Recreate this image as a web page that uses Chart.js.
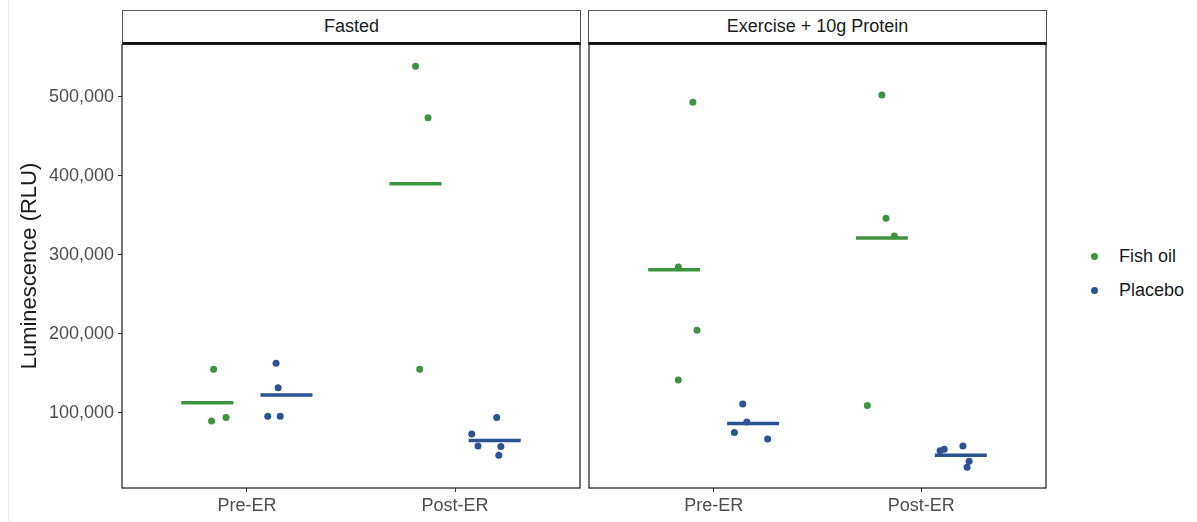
<!DOCTYPE html>
<html>
<head>
<meta charset="utf-8">
<script src="https://cdn.jsdelivr.net/npm/chart.js@4.4.0/dist/chart.umd.min.js"></script>
<style>
  body { margin: 0; background: #fff; font-family: 'Liberation Sans', Arial, sans-serif; }
  #wrap { position: relative; width: 1197px; height: 522px; overflow: hidden; background: #fff; }
  .edge { position: absolute; left: 8px; top: 0; width: 1px; height: 522px; background: #ececec; }
  .panel { position: absolute; top: 44px; height: 478px; }
  .strip {
    position: absolute; top: 10px; height: 35px; box-sizing: border-box;
    border: 1.5px solid #555; border-bottom: 3px solid #111; background: #fff;
    text-align: center; line-height: 31px; font-size: 18px; color: #1a1a1a;
  }
  .legend { position: absolute; left: 1091px; font-size: 18px; color: #1a1a1a; line-height: 22px; }
  .legend span.dot { display: inline-block; width: 7px; height: 7px; border-radius: 50%; margin-right: 21px; vertical-align: middle; position: relative; top: -1px; }
</style>
</head>
<body>
<div id="wrap">
  <div class="edge"></div>
  <div class="strip" id="strip0" style="left:122px;width:459px;"></div>
  <div class="strip" id="strip1" style="left:588px;width:459px;"></div>
  <div class="panel" style="left:0;width:581px;"><canvas id="fastedChart"></canvas></div>
  <div class="panel" style="left:588px;width:459px;"><canvas id="exerciseChart"></canvas></div>
  <div class="legend" style="top:245px;"><span class="dot" style="background:#3f923f"></span>Fish oil</div>
  <div class="legend" style="top:279px;"><span class="dot" style="background:#2b5291"></span>Placebo</div>
</div>
<script>
// --- DATA ---
const categories = ['Pre-ER', 'Post-ER'];
const panelTitles = ['Fasted', 'Exercise + 10g Protein'];
const groups = ['Fish oil', 'Placebo'];
const yTicks = [100000, 200000, 300000, 400000, 500000];

// x = category position (1 = Pre-ER, 2 = Post-ER) incl. dodge + jitter
const fastedFishX = [0.84, 0.83, 0.90, 1.81, 1.87, 1.83];
const fastedFishY = [155300, 89900, 94100, 538900, 473800, 155300];
const fastedPlaceboX = [1.14, 1.15, 1.10, 1.16, 2.20, 2.08, 2.11, 2.22, 2.21];
const fastedPlaceboY = [162900, 132000, 95800, 95800, 94100, 73400, 58200, 57400, 46400];
const fastedFishMean = [113000, 390000];
const fastedPlaceboMean = [122800, 65000];

const exerciseFishX = [0.90, 0.92, 0.83, 0.83, 1.81, 1.83, 1.87, 1.74];
const exerciseFishY = [493300, 204700, 141800, 284800, 502500, 346500, 324000, 109300];
const exercisePlaceboX = [1.14, 1.16, 1.10, 1.26, 2.20, 2.09, 2.11, 2.23, 2.22];
const exercisePlaceboY = [111400, 88600, 75100, 67100, 58200, 52300, 54000, 38900, 31300];
const exerciseFishMean = [281400, 321500];
const exercisePlaceboMean = [86500, 46400];

// --- STYLE ---
const colors = { fish: '#3f923f', placebo: '#2b5291' };
const dodge = 0.19;      // half the dodge distance between groups
const halfBar = 0.125;   // half width of the mean bar
const tickColor = '#4d4d4d';
const fontFamily = "'Liberation Sans', Arial, sans-serif";

document.getElementById('strip0').textContent = panelTitles[0];
document.getElementById('strip1').textContent = panelTitles[1];

function toPoints(xs, ys) {
    return xs.map((x, i) => ({ x: x, y: ys[i] }));
}

// each mean is a short horizontal segment; a null point breaks the line between them
function meanSegments(means, offset) {
    const pts = [];
    means.forEach((m, i) => {
        const c = i + 1 + offset;
        pts.push({ x: c - halfBar, y: m }, { x: c + halfBar, y: m }, { x: c + halfBar, y: null });
    });
    return pts;
}

// box around the panel, like ggplot's panel.border
const panelBorder = {
    id: 'panelBorder',
    afterDraw(chart) {
        const { ctx, chartArea: a } = chart;
        ctx.save();
        ctx.strokeStyle = '#2a2a2a';
        ctx.lineWidth = 1.3;
        ctx.strokeRect(a.left, a.top, a.right - a.left, a.bottom - a.top);
        ctx.restore();
    }
};

function noEdgePadding(s) {
    s.paddingTop = 0; s.paddingBottom = 0; s.paddingLeft = 0; s.paddingRight = 0;
}

function buildChart(canvasId, fishX, fishY, placeboX, placeboY, fishMean, placeboMean, showY) {
    return new Chart(document.getElementById(canvasId), {
        type: 'scatter',
        data: {
            datasets: [
                {
                    type: 'line', label: groups[0] + ' mean', data: meanSegments(fishMean, -dodge),
                    borderColor: colors.fish, borderWidth: 3.5, pointRadius: 0, spanGaps: false, order: 0
                },
                {
                    type: 'line', label: groups[1] + ' mean', data: meanSegments(placeboMean, dodge),
                    borderColor: colors.placebo, borderWidth: 3.5, pointRadius: 0, spanGaps: false, order: 0
                },
                {
                    label: groups[0], data: toPoints(fishX, fishY),
                    backgroundColor: colors.fish, borderWidth: 0, pointRadius: 3.5, order: 1
                },
                {
                    label: groups[1], data: toPoints(placeboX, placeboY),
                    backgroundColor: colors.placebo, borderWidth: 0, pointRadius: 3.5, order: 1
                }
            ]
        },
        options: {
            responsive: true,
            maintainAspectRatio: false,
            animation: false,
            layout: { autoPadding: false, padding: { left: showY ? 0 : 1, right: 1, top: 0, bottom: 0 } },
            plugins: { legend: { display: false }, tooltip: { enabled: false } },
            scales: {
                x: {
                    type: 'linear', min: 0.4, max: 2.6,
                    afterBuildTicks: s => { s.ticks = categories.map((c, i) => ({ value: i + 1 })); },
                    afterFit: s => { s.height = 34; noEdgePadding(s); },
                    ticks: {
                        color: tickColor, font: { size: 18, family: fontFamily }, padding: 3,
                        maxRotation: 0, callback: v => categories[v - 1]
                    },
                    grid: { drawOnChartArea: false, drawTicks: true, tickLength: 4, color: '#333' },
                    border: { display: false }
                },
                y: {
                    display: showY,
                    min: 5000, max: 567000,
                    afterBuildTicks: s => { s.ticks = yTicks.map(v => ({ value: v })); },
                    afterFit: s => { if (showY) s.width = 122; noEdgePadding(s); },
                    ticks: {
                        color: tickColor, font: { size: 18, family: fontFamily }, padding: 4,
                        callback: v => v.toLocaleString('en-US')
                    },
                    grid: { drawOnChartArea: false, drawTicks: true, tickLength: 4, color: '#333' },
                    border: { display: false },
                    title: {
                        display: showY, text: 'Luminescence (RLU)', color: '#1a1a1a',
                        font: { size: 22, family: fontFamily }, padding: { top: 17, bottom: 0 }
                    }
                }
            }
        },
        plugins: [panelBorder]
    });
}

buildChart('fastedChart', fastedFishX, fastedFishY, fastedPlaceboX, fastedPlaceboY,
    fastedFishMean, fastedPlaceboMean, true);
buildChart('exerciseChart', exerciseFishX, exerciseFishY, exercisePlaceboX, exercisePlaceboY,
    exerciseFishMean, exercisePlaceboMean, false);
</script>
</body>
</html>
